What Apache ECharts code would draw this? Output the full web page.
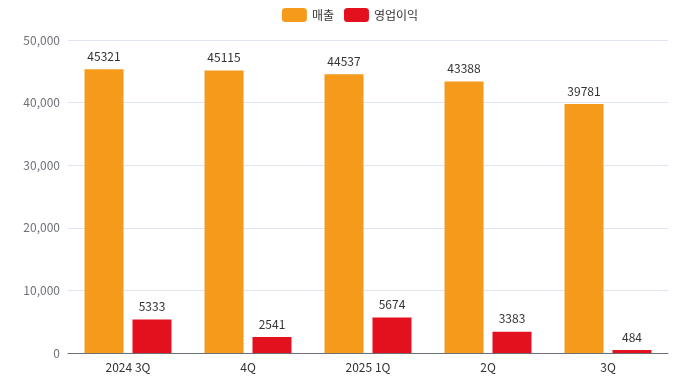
<!DOCTYPE html>
<html><head><meta charset="utf-8">
<script src="https://cdn.jsdelivr.net/npm/echarts@6/dist/echarts.min.js"></script>
<style>html,body{margin:0;padding:0;background:#fff}#c{width:700px;height:385px}</style>
</head><body><div id="c"></div>
<script>
const categories = ['2024 3Q', '4Q', '2025 1Q', '2Q', '3Q'];
const sales = [45321, 45115, 44537, 43388, 39781];
const operatingProfit = [5333, 2541, 5674, 3383, 484];
const seriesNames = ['매출', '영업이익'];
const chart = echarts.init(document.getElementById('c'));
const font = "'Noto Sans CJK KR', 'Noto Sans', sans-serif";
chart.setOption({
  animation: false,
  textStyle: { fontFamily: font },
  legend: { top: 3, left: 'center', itemWidth: 25, itemHeight: 14, itemGap: 10,
    textStyle: { fontFamily: font, fontSize: 12, color: '#333' } },
  grid: { left: 68, right: 32, top: 40, bottom: 32 },
  xAxis: { type: 'category', data: categories,
    axisLine: { lineStyle: { color: '#6e7079' } },
    axisTick: { lineStyle: { color: '#6e7079' } },
    axisLabel: { color: '#333', fontSize: 12, fontFamily: font } },
  yAxis: { type: 'value', min: 0, max: 50000, interval: 10000,
    axisLabel: { color: '#6e7079', fontSize: 12, fontFamily: font,
      formatter: v => v.toLocaleString('en-US') },
    splitLine: { lineStyle: { color: '#E0E6F1' } } },
  series: [
    { name: seriesNames[0], type: 'bar', data: sales, barWidth: 39, barGap: '23%',
      itemStyle: { color: '#F59A1B' },
      label: { show: true, position: 'top', color: '#333', fontSize: 12, fontFamily: font, distance: 7 } },
    { name: seriesNames[1], type: 'bar', data: operatingProfit, barWidth: 39,
      itemStyle: { color: '#E3101E' },
      label: { show: true, position: 'top', color: '#333', fontSize: 12, fontFamily: font, distance: 7 } }
  ]
});
</script></body></html>
